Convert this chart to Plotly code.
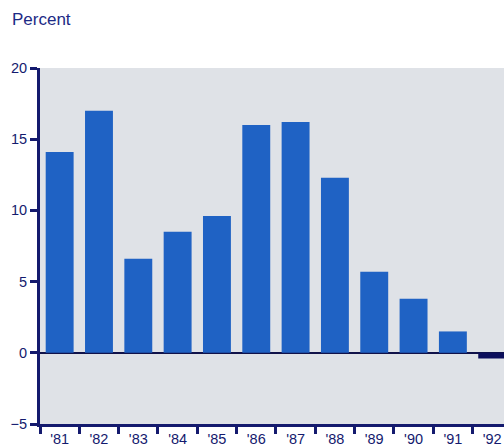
import plotly.graph_objects as go

# Annual percent change, 1981-1992
years = ["'81", "'82", "'83", "'84", "'85", "'86", "'87", "'88", "'89", "'90", "'91", "'92"]
values = [14.1, 17.0, 6.6, 8.5, 9.6, 16.0, 16.2, 12.3, 5.7, 3.8, 1.5, -0.4]

y_ticks = [-5, 0, 5, 10, 15, 20]

NAVY = "#141a6e"
BAR_BLUE = "#1f62c4"
LAST_BAR = "#0c0f5c"

bar_colors = [BAR_BLUE] * (len(years) - 1) + [LAST_BAR]

fig = go.Figure(
    go.Bar(
        x=years,
        y=values,
        marker=dict(color=bar_colors, line=dict(width=0)),
        hoverinfo="x+y",
    )
)

fig.update_layout(
    width=504,
    height=447,
    margin=dict(l=40, r=0, t=68, b=23, autoexpand=False),
    paper_bgcolor="white",
    plot_bgcolor="#dfe2e7",
    bargap=0.29,
    showlegend=False,
    font=dict(family="Liberation Sans, Arial, sans-serif", color=NAVY),
    annotations=[
        dict(
            text="Percent",
            xref="paper", yref="paper",
            x=-0.065, y=1.168,
            xanchor="left", yanchor="top",
            showarrow=False,
            font=dict(size=17, color="#1c2a85"),
        )
    ],
)

fig.update_xaxes(
    type="category",
    range=[-0.5, 11.3],
    tickson="boundaries",
    ticks="outside",
    ticklen=7,
    tickwidth=2.5,
    tickcolor=NAVY,
    showline=True,
    linecolor=NAVY,
    linewidth=3,
    showgrid=False,
    tickfont=dict(size=14.5, color=NAVY),
    automargin=False,
)

fig.update_yaxes(
    range=[-5, 20],
    tickvals=y_ticks,
    ticktext=["\u22125", "0", "5", "10", "15", "20"],
    ticks="outside",
    ticklen=7,
    tickwidth=2.5,
    tickcolor=NAVY,
    showline=True,
    linecolor=NAVY,
    linewidth=3,
    showgrid=False,
    zeroline=True,
    zerolinecolor="#10124a",
    zerolinewidth=1.6,
    tickfont=dict(size=14.5, color=NAVY),
    automargin=False,
)

fig.write_html("out.html")
